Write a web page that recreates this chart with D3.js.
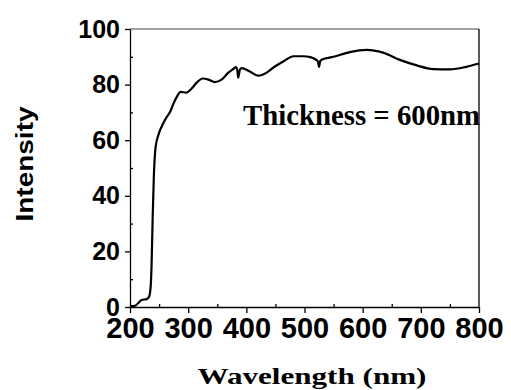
<!DOCTYPE html>
<html>
<head>
<meta charset="utf-8">
<script src="https://cdn.jsdelivr.net/npm/d3@7"></script>
<style>
  body { margin: 0; background: #fff; }
  svg { display: block; }
</style>
</head>
<body>
<div id="chart"></div>
<script>
// datos
const wavelength = [200, 208, 220, 229, 233, 235.5, 237, 239, 241, 244, 249, 257, 263, 269, 274, 280, 287, 296, 306, 315,
  325, 335, 346, 358, 369, 378, 382, 384.5, 386, 389, 392, 406, 421, 435, 449, 465, 481, 498, 510, 518,
  523, 525, 527, 530, 550, 578, 607, 635, 664, 693, 721, 750, 778, 800];
const intensity = [0.3, 0.4, 2.5, 2.9, 3.8, 7.3, 14.5, 32.5, 47, 57.5, 62, 66, 68.3, 70.2, 72.8, 75.4, 77.4, 77.1, 78.6, 80.8,
  82.2, 81.8, 80.9, 81.9, 84.3, 85.7, 86.3, 85.2, 82.5, 85.4, 85.9, 84.7, 83.2, 84.3, 86.5, 88.5, 90.2, 90.2, 89.9, 89.2,
  88.3, 86.4, 88.5, 89, 90, 91.7, 92.5, 91.5, 88.9, 86.9, 85.6, 85.5, 86.4, 87.6];
const xTicks = [200, 300, 400, 500, 600, 700, 800];
const xMinor = [250, 350, 450, 550, 650, 750];
const yTicks = [0, 20, 40, 60, 80, 100];
const yMinor = [10, 30, 50, 70, 90];

const W = 511, H = 390;
const plot = { left: 130, right: 479, top: 29, bottom: 307 };

const x = d3.scaleLinear().domain([200, 800]).range([plot.left, plot.right]);
const y = d3.scaleLinear().domain([0, 100]).range([plot.bottom, plot.top]);

const svg = d3.select("#chart").append("svg")
  .attr("width", W)
  .attr("height", H);

// marco superior (gris) y derecho
svg.append("line")
  .attr("x1", plot.left).attr("x2", plot.right).attr("y1", plot.top).attr("y2", plot.top)
  .attr("stroke", "#808080").attr("stroke-width", 1.5);
svg.append("line")
  .attr("x1", plot.right).attr("x2", plot.right).attr("y1", plot.top).attr("y2", plot.bottom)
  .attr("stroke", "#000").attr("stroke-width", 1.3);

// ticks menores hacia dentro
svg.append("g")
  .attr("transform", `translate(0,${plot.bottom})`)
  .call(d3.axisBottom(x).tickValues(xMinor).tickSize(-3).tickFormat(""))
  .call(g => g.select(".domain").remove());
svg.append("g")
  .attr("transform", `translate(${plot.left},0)`)
  .call(d3.axisLeft(y).tickValues(yMinor).tickSize(-3).tickFormat(""))
  .call(g => g.select(".domain").remove());

// eje X
const xAxis = svg.append("g")
  .attr("transform", `translate(0,${plot.bottom})`)
  .call(d3.axisBottom(x).tickValues(xTicks).tickSize(6).tickSizeOuter(0).tickPadding(4));
xAxis.selectAll("text")
  .attr("font-family", "Liberation Sans, Arial, sans-serif")
  .attr("font-weight", "bold")
  .attr("font-size", 29)
  .attr("fill", "#000")
  .attr("dy", "0.72em");

// eje Y
const yAxis = svg.append("g")
  .attr("transform", `translate(${plot.left},0)`)
  .call(d3.axisLeft(y).tickValues(yTicks).tickSize(5).tickSizeOuter(0).tickPadding(5));
yAxis.selectAll("text")
  .attr("font-family", "Liberation Sans, Arial, sans-serif")
  .attr("font-weight", "bold")
  .attr("font-size", 25)
  .attr("fill", "#000");

svg.selectAll(".domain, .tick line")
  .attr("stroke", "#000")
  .attr("stroke-width", 1.3);

// curva
const line = d3.line()
  .x((d, i) => x(wavelength[i]))
  .y(d => y(d))
  .curve(d3.curveMonotoneX);

svg.append("path")
  .datum(intensity)
  .attr("fill", "none")
  .attr("stroke", "#000")
  .attr("stroke-width", 2.2)
  .attr("d", line);

// textos
svg.append("text")
  .attr("x", 243).attr("y", 125)
  .attr("font-family", "Liberation Serif, Times New Roman, serif")
  .attr("font-weight", "bold")
  .attr("font-size", 29)
  .attr("textLength", 237)
  .attr("lengthAdjust", "spacingAndGlyphs")
  .text("Thickness = 600nm");

svg.append("text")
  .attr("x", 312).attr("y", 384)
  .attr("text-anchor", "middle")
  .attr("font-family", "Liberation Serif, Times New Roman, serif")
  .attr("font-weight", "bold")
  .attr("font-size", 23)
  .attr("textLength", 229)
  .attr("lengthAdjust", "spacingAndGlyphs")
  .text("Wavelength (nm)");

svg.append("text")
  .attr("transform", "translate(33,164) rotate(-90)")
  .attr("text-anchor", "middle")
  .attr("font-family", "Liberation Sans, Arial, sans-serif")
  .attr("font-weight", "bold")
  .attr("font-size", 23)
  .attr("textLength", 115)
  .attr("lengthAdjust", "spacingAndGlyphs")
  .text("Intensity");
</script>
</body>
</html>
